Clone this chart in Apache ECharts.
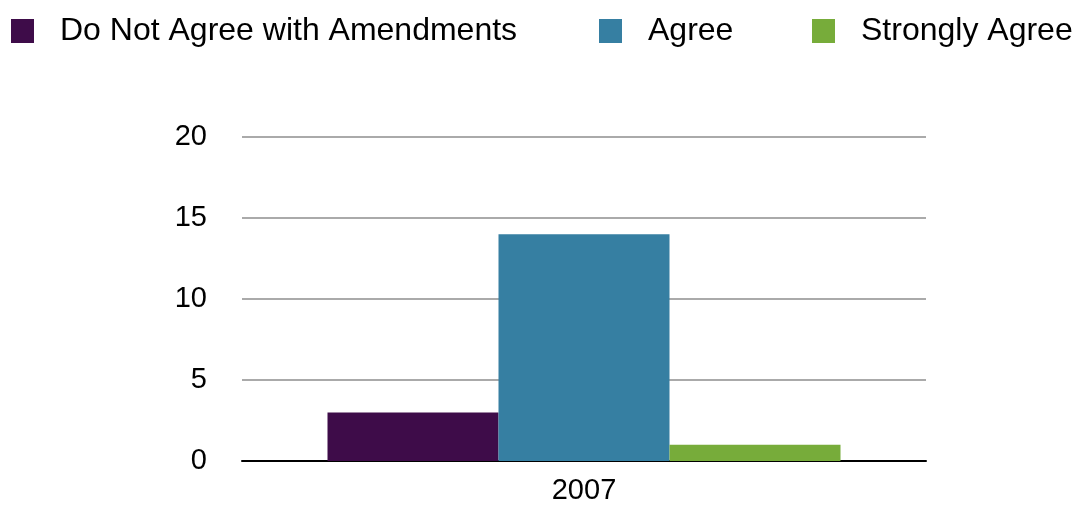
<!DOCTYPE html>
<html><head><meta charset="utf-8">
<script src="https://cdn.jsdelivr.net/npm/echarts@6/dist/echarts.min.js"></script>
<style>html,body{margin:0;padding:0;background:#fff}#c{width:1087px;height:505px}</style>
</head><body><div id="c"></div>
<script>
const categories = ['2007'];
const seriesNames = ['Do Not Agree with Amendments', 'Agree', 'Strongly Agree'];
const notAgree = [3];
const agree = [14];
const stronglyAgree = [1];
const yTicks = [0, 5, 10, 15, 20];
const colors = ['#3e0c49', '#367fa2', '#77ac3a'];
const values = [notAgree, agree, stronglyAgree];
const legendLefts = [11, 599, 812];
const font = 'Liberation Sans, Arial, Helvetica, sans-serif';

const chart = echarts.init(document.getElementById('c'));
chart.setOption({
  animation: false,
  backgroundColor: '#fff',
  legend: seriesNames.map((n, i) => ({
    data: [n], left: legendLefts[i], top: 15, padding: 0,
    itemWidth: 23, itemHeight: 24, icon: 'rect',
    textStyle: { fontFamily: font, fontSize: 32, color: '#000', padding: [0, 0, 0, 21] }
  })),
  grid: { left: 242, right: 161, top: 137, bottom: 43 },
  xAxis: {
    type: 'category', data: categories,
    axisLine: { lineStyle: { color: '#000', width: 2 } },
    axisTick: { show: false },
    axisLabel: { fontFamily: font, fontSize: 29, color: '#000', margin: 15 }
  },
  yAxis: {
    type: 'value', min: yTicks[0], max: yTicks[yTicks.length - 1], interval: 5,
    axisLine: { show: false }, axisTick: { show: false },
    splitLine: { lineStyle: { color: '#aaa', width: 2 } },
    axisLabel: { fontFamily: font, fontSize: 29, color: '#000', margin: 35 }
  },
  series: seriesNames.map((n, i) => ({
    name: n, type: 'bar', data: values[i],
    barGap: 0, barCategoryGap: '25%',
    itemStyle: { color: colors[i] }
  }))
});
</script></body></html>
